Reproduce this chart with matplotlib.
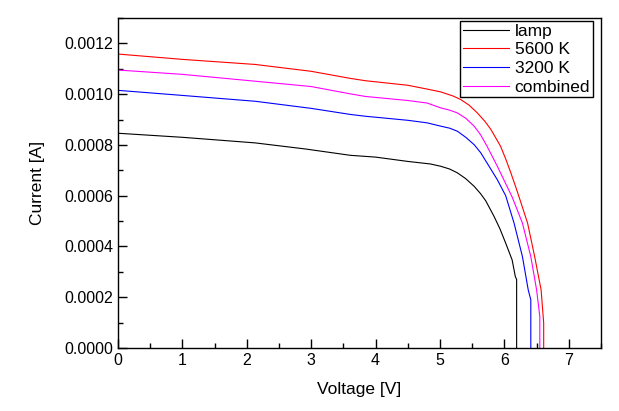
import matplotlib

matplotlib.use("Agg")
import matplotlib.pyplot as plt
from matplotlib.ticker import MultipleLocator, FormatStrFormatter

plt.rcParams["font.family"] = ["Liberation Sans", "DejaVu Sans"]

# I-V readings (voltage in V, current in mA -> scaled to A below)
lamp_v = [0, 1.0, 2.13, 2.91, 3.61, 4.0, 4.5, 4.85, 5.01, 5.15, 5.27, 5.4,
          5.53, 5.63, 5.71, 5.84, 5.93, 6.02, 6.12, 6.17, 6.19, 6.19]
lamp_i = [0.846, 0.830, 0.808, 0.784, 0.759, 0.752, 0.735, 0.725, 0.716,
          0.705, 0.690, 0.667, 0.637, 0.608, 0.580, 0.518, 0.470, 0.413,
          0.347, 0.281, 0.27, 0.0]

k5600_v = [0, 1.0, 2.13, 3.0, 3.61, 3.84, 4.5, 4.8, 5.01, 5.2, 5.32, 5.45,
           5.58, 5.7, 5.79, 5.94, 6.02, 6.10, 6.19, 6.26, 6.36, 6.47, 6.57,
           6.61, 6.61]
k5600_i = [1.158, 1.137, 1.117, 1.090, 1.062, 1.053, 1.035, 1.020, 1.009,
           0.993, 0.979, 0.957, 0.926, 0.892, 0.861, 0.795, 0.745, 0.690,
           0.624, 0.570, 0.492, 0.360, 0.229, 0.098, 0.0]

k3200_v = [0, 1.0, 2.13, 3.0, 3.61, 3.84, 4.5, 4.8, 5.01, 5.15, 5.27, 5.4,
           5.53, 5.63, 5.73, 5.89, 6.02, 6.15, 6.28, 6.37, 6.41, 6.41]
k3200_i = [1.015, 0.995, 0.972, 0.944, 0.920, 0.913, 0.897, 0.887, 0.874,
           0.866, 0.854, 0.830, 0.801, 0.770, 0.729, 0.663, 0.600, 0.492,
           0.360, 0.229, 0.19, 0.0]

comb_v = [0, 1.0, 2.13, 3.0, 3.61, 3.84, 4.5, 4.8, 5.01, 5.15, 5.27, 5.4,
          5.53, 5.63, 5.73, 5.89, 6.04, 6.12, 6.28, 6.41, 6.50, 6.55, 6.55]
comb_i = [1.095, 1.078, 1.051, 1.030, 1.001, 0.991, 0.975, 0.965, 0.946,
          0.937, 0.926, 0.905, 0.874, 0.840, 0.795, 0.716, 0.637, 0.595,
          0.492, 0.360, 0.229, 0.124, 0.0]

SERIES = [
    ("lamp", lamp_v, lamp_i, "black"),
    ("5600 K", k5600_v, k5600_i, "#ff0000"),
    ("3200 K", k3200_v, k3200_i, "#0000ff"),
    ("combined", comb_v, comb_i, "#ff00ff"),
]


def main():
    fig = plt.figure(figsize=(6.19, 4.11), dpi=100)
    ax = fig.add_axes([118 / 619, 63 / 411, 483 / 619, 330 / 411])

    for label, v, i, color in SERIES:
        ax.plot(v, [x * 1e-3 for x in i], color=color, linewidth=0.8, label=label)

    ax.set_xlim(0, 7.5)
    ax.set_ylim(0, 0.0013)
    ax.xaxis.set_major_locator(MultipleLocator(1))
    ax.xaxis.set_minor_locator(MultipleLocator(0.5))
    ax.yaxis.set_major_locator(MultipleLocator(0.0002))
    ax.yaxis.set_minor_locator(MultipleLocator(0.0001))
    ax.yaxis.set_major_formatter(FormatStrFormatter("%.4f"))
    ax.tick_params(which="both", direction="in", labelsize=11.5, width=1.0)
    ax.tick_params(which="major", length=6.5)
    ax.tick_params(which="minor", length=3.5)
    for sp in ax.spines.values():
        sp.set_linewidth(1.0)

    ax.set_xlabel("Voltage [V]", fontsize=12.5, labelpad=10)
    ax.set_ylabel("Current [A]", fontsize=12.5, labelpad=14)

    leg = ax.legend(loc="upper right", bbox_to_anchor=(0.983, 0.991),
                    fontsize=12.5, frameon=True, fancybox=False,
                    edgecolor="black", framealpha=1, borderaxespad=0.0,
                    handlelength=2.7, handletextpad=0.3, labelspacing=0.2,
                    borderpad=0.15)
    leg.get_frame().set_linewidth(1.0)

    fig.savefig("out.png", dpi=100)


if __name__ == "__main__":
    main()
